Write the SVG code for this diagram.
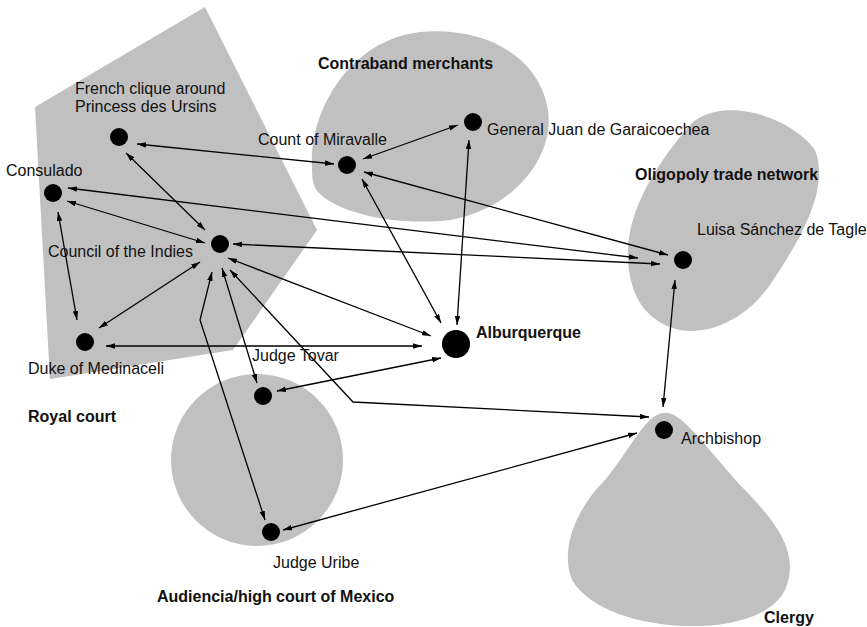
<svg xmlns="http://www.w3.org/2000/svg" width="867" height="627" viewBox="0 0 867 627">
<defs>
<marker id="ah" markerUnits="userSpaceOnUse" markerWidth="10" markerHeight="6" refX="9" refY="2.75" orient="auto-start-reverse" viewBox="0 0 10 6">
<path d="M0,0 L9,2.75 L0,5.5 z" fill="#000"/>
</marker>
</defs>
<style>
.grp{fill:#c0c0c0;stroke:none}
.n{fill:#000}
.t{font-family:"Liberation Sans",Arial,sans-serif;font-size:16px;fill:#111}
.b{font-family:"Liberation Sans",Arial,sans-serif;font-size:16px;font-weight:bold;fill:#111}
.c{fill:none;stroke:#000;stroke-width:1.3;marker-start:url(#ah);marker-end:url(#ah)}
</style>
<rect width="867" height="627" fill="#fff"/>
<g id="regions">
<polygon id="royal-court" class="grp" points="35,107 205,7 317,230 233,350 50,379"/>
<path id="contraband" class="grp" d="M312,165 C310,110 350,40 420,32 C490,26 540,60 548,110 C555,160 510,210 450,220 C400,226 340,215 318,192 C312,185 312,175 312,165 Z"/>
<path id="oligopoly" class="grp" d="M628,260 C625,210 660,160 690,125 C720,95 790,115 815,150 C830,190 800,240 770,285 C745,320 710,335 680,330 C645,322 630,295 628,260 Z"/>
<circle id="audiencia" class="grp" cx="257" cy="460" r="86"/>
<path id="clergy" class="grp" d="M663,413 C680,410 700,440 740,485 C780,525 800,555 785,590 C770,620 720,627 687,626 C640,625 590,610 572,580 C560,550 575,510 605,480 C630,450 645,415 663,413 Z"/>
</g>
<g id="connectors">
<line class="c" x1="137" y1="144" x2="334" y2="164"/>
<line class="c" x1="126" y1="153" x2="205" y2="230"/>
<line class="c" x1="67" y1="201" x2="205" y2="243"/>
<line class="c" x1="68" y1="188" x2="638" y2="258"/>
<line class="c" x1="233" y1="244" x2="660" y2="264"/>
<line class="c" x1="364" y1="172" x2="668" y2="255"/>
<line class="c" x1="363" y1="159" x2="458" y2="125"/>
<line class="c" x1="362" y1="179" x2="441" y2="323"/>
<line class="c" x1="469" y1="140" x2="457" y2="325"/>
<line class="c" x1="228" y1="258" x2="431" y2="336"/>
<line class="c" x1="106" y1="346" x2="422" y2="346"/>
<line class="c" x1="200" y1="262" x2="99" y2="328"/>
<line class="c" x1="58" y1="212" x2="77" y2="320"/>
<line class="c" x1="222" y1="268" x2="257" y2="383"/>
<polyline class="c" points="212,272 200,320 265,520"/>
<line class="c" x1="277" y1="391" x2="441" y2="358"/>
<polyline class="c" points="230,270 353,402 649,417"/>
<line class="c" x1="283" y1="530" x2="637" y2="433"/>
<line class="c" x1="675" y1="280" x2="663" y2="407"/>
</g>
<g id="french-clique"><circle class="n" cx="119" cy="137" r="9"/><text class="t" x="75" y="94">French clique around</text><text class="t" x="75" y="112">Princess des Ursins</text></g>
<g id="consulado"><circle class="n" cx="53" cy="193" r="9"/><text class="t" x="6" y="176">Consulado</text></g>
<g id="council"><circle class="n" cx="220" cy="244" r="9"/><text class="t" x="48" y="257">Council of the Indies</text></g>
<g id="miravalle"><circle class="n" cx="347" cy="165" r="9"/><text class="t" x="258" y="145">Count of Miravalle</text></g>
<g id="garaicoechea"><circle class="n" cx="473" cy="122" r="9"/><text class="t" x="487" y="135">General Juan de Garaicoechea</text></g>
<g id="luisa"><circle class="n" cx="683" cy="260" r="9"/><text class="t" x="697" y="235">Luisa Sánchez de Tagle</text></g>
<g id="alburquerque"><circle class="n" cx="456" cy="344" r="14"/><text class="b" x="476" y="338">Alburquerque</text></g>
<g id="medinaceli"><circle class="n" cx="85" cy="342" r="9"/><text class="t" x="28" y="374">Duke of Medinaceli</text></g>
<g id="tovar"><circle class="n" cx="263" cy="396" r="9"/><text class="t" x="252" y="361">Judge Tovar</text></g>
<g id="uribe"><circle class="n" cx="271" cy="532" r="9"/><text class="t" x="273" y="568">Judge Uribe</text></g>
<g id="archbishop"><circle class="n" cx="664" cy="430" r="9"/><text class="t" x="681" y="444">Archbishop</text></g>
<g id="group-labels">
<text class="b" x="318" y="69">Contraband merchants</text>
<text class="b" x="635" y="180">Oligopoly trade network</text>
<text class="b" x="28" y="422">Royal court</text>
<text class="b" x="157" y="602">Audiencia/high court of Mexico</text>
<text class="b" x="764" y="623">Clergy</text>
</g>
</svg>
